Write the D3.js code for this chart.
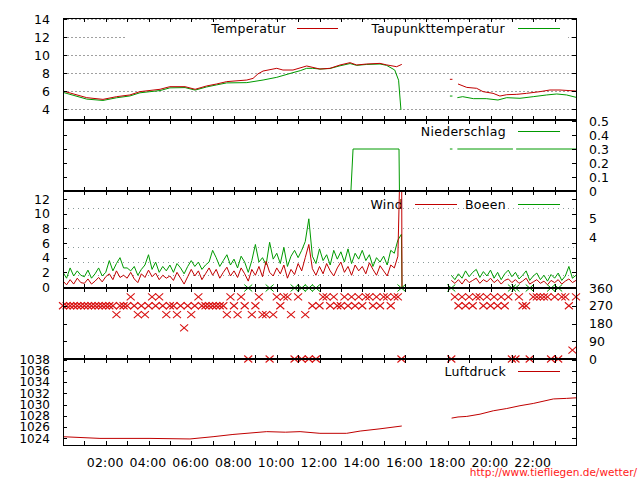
<!DOCTYPE html>
<html><head><meta charset="utf-8">
<script src="https://cdn.jsdelivr.net/npm/d3@7"></script>
<style>
body{margin:0;background:#fff}
svg{display:block}
text{font-family:"DejaVu Sans",sans-serif}
</style>
</head><body>
<svg id="c" width="640" height="480"></svg>
<script>
// ---------------- DATA ----------------
const hourTicks = [1,2,3,4,5,6,7,8,9,10,11,12,13,14,15,16,17,18,19,20,21,22,23];
const timeLabelHours = [2,4,6,8,10,12,14,16,18,20,22];
const timeLabels = ["02:00","04:00","06:00","08:00","10:00","12:00","14:00","16:00","18:00","20:00","22:00"];
const tempTicks = [4,6,8,10,12,14];
const rainTicks = [0,0.1,0.2,0.3,0.4,0.5];
const rainLabels = ["0","0.1","0.2","0.3","0.4","0.5"];
const windTicks = [0,2,4,6,8,10,12];
const bftLimits = [1.6,3.4,5.5,8.0,10.8];
const bftLabelValues = [9.4,6.75];
const bftLabels = ["5","4"];
const dirTicks = [0,90,180,270,360];
const pressTicks = [1024,1026,1028,1030,1032,1034,1036,1038];

// temperature (hours, °C); null = gap
const tempTime = [0,1.11,1.87,2.51,3.13,3.6,4.54,5.0,5.71,6.18,6.72,7.19,7.66,8.6,8.89,9.12,9.36,10.0,10.29,10.76,11.4,12.02,12.49,12.96,13.43,13.74,14.21,14.83,15.14,15.61,15.85,
  17,18.1,18.22,18.3,18.48,18.89,19.35,19.65,20.12,20.44,20.76,21.23,21.69,22.32,22.78,23.25,24.0];
const tempValue = [6.0,5.26,5.07,5.37,5.56,5.93,6.19,6.48,6.48,6.19,6.56,6.78,7.04,7.22,7.4,7.9,8.22,8.52,8.33,8.33,8.78,8.44,8.52,8.89,9.15,8.89,9.0,9.07,8.9,8.7,8.96,
  null,7.3,7.3,null,6.78,6.4,6.3,5.93,5.74,5.44,5.59,5.63,5.74,5.93,6.11,6.11,6.0];
const dewTime = [0,1.11,1.87,2.51,3.13,3.6,4.54,5.0,5.71,6.18,6.72,7.19,7.66,8.6,9.36,10.0,10.76,11.1,11.4,11.68,12.02,12.49,12.96,13.43,13.74,14.21,14.83,15.14,15.52,15.7,15.81,
  17,18.1,18.22,18.3,18.45,18.7,19.2,19.8,20.35,20.76,21.38,22.0,22.63,23.1,23.56,24.0];
const dewValue = [5.85,5.1,4.95,5.25,5.45,5.8,6.05,6.35,6.38,6.1,6.45,6.68,6.9,6.93,7.22,7.52,8.04,8.26,8.52,8.52,8.44,8.5,8.8,9.05,8.85,8.95,9.0,8.85,8.33,7.2,3.9,
  null,5.44,5.44,null,5.26,5.37,5.15,5.15,5.0,5.26,5.19,5.37,5.56,5.67,5.56,5.3];

// precipitation (mm)
const rainTime = [0,13.47,13.57,15.72,15.74,15.86,17,18.1,18.22,18.3,18.45,21.05,21.1,21.2,24];
const rainValue = [0,0,0.3,0.3,0,0,null,0.3,0.3,null,0.3,0.3,null,0.3,0.3];

// wind / gusts (m/s), 10-minute samples
const windStepMin = 10;
const seg1Start = 0;          // 00:00
const seg2Start = 18 + 10/60; // 18:10
const wind1 = [0.8,0.3,1.0,0.4,1.2,0.6, 0.5,1.1,0.4,0.8,1.3,0.7, 1.4,1.8,1.0,2.2,1.3,1.6,
  1.2,2.0,1.1,0.6,1.8,1.3, 2.3,1.4,1.9,1.0,1.6,1.2, 1.5,0.9,2.0,1.2,0.4,1.4,
  2.4,1.5,2.2,1.0,1.8,2.6, 1.6,2.4,1.2,2.0,2.7,1.5, 2.2,1.3,2.6,1.8,0.8,2.4,
  1.6,2.8,1.4,3.5,2.0,1.5, 2.6,1.8,3.0,1.2,2.4,1.7, 3.2,2.2,4.0,5.8,2.5,1.6,
  2.8,1.8,3.2,2.2,1.5,2.6, 3.4,2.0,2.8,1.6,3.0,2.2, 2.8,1.8,3.3,2.4,1.6,2.9,
  2.2,1.5,3.0,2.6,4.2,25];
const gust1 = [2.0,1.2,2.6,1.5,2.2,1.6, 1.4,2.3,1.2,1.8,2.6,1.5, 2.0,3.6,2.2,3.2,4.0,2.6,
  2.6,2.2,2.8,1.6,2.4,3.0, 4.4,2.4,3.4,2.0,2.8,2.2, 3.0,2.0,3.2,2.6,1.8,2.8,
  3.6,2.8,3.4,2.4,3.0,3.4, 5.0,4.0,2.8,3.6,4.4,3.0, 3.8,2.6,4.2,3.4,2.0,3.6,
  5.8,3.4,4.0,3.0,6.1,3.8, 4.6,3.2,5.4,2.8,4.2,5.0, 4.0,5.0,6.2,9.3,4.2,3.2,
  5.2,3.6,4.4,3.0,5.0,3.8, 4.8,3.4,5.2,3.2,4.6,3.8, 5.0,3.6,4.4,2.8,4.0,3.4,
  4.2,3.0,5.0,4.6,6.4,7.2];
// final reading of the first segment (drop to calm)
const seg1EndTime = 15.86;
const wind1End = 0;
const gust1End = 0;
const wind2 = [0.9,0.5,1.0,0.4,1.1,0.6, 0.9,1.2,0.5,1.0,0.7,1.2, 0.6,1.0,0.4,0.9,1.1,0.6,
  1.0,0.5,0.8,1.2,0.4,0.7, 1.0,0.5,0.8,0.3,0.9,0.6, 1.0,0.4,0.8,1.1,0.6,0.9];
const gust2 = [1.6,1.0,1.8,1.2,2.2,1.4, 2.0,2.4,1.3,2.1,1.5,2.3, 1.2,2.0,1.0,1.8,2.3,1.4,
  2.0,1.1,1.6,2.2,0.9,1.5, 1.9,1.0,1.6,0.8,1.7,1.2, 1.9,0.9,1.5,2.8,1.2,1.6];

// wind direction (degrees), same sampling
const dir1 = [270,270,270,270,270,270, 270,270,270,270,270,270, 270,270,270,225,270,270,
  270,315,270,225,270,225, 270,315,270,315,270,225, 270,270,225,270,157.5,270,
  225,270,315,270,270,270, 270,270,270,270,225,315, 270,225,315,270,0,225,
  270,315,225,225,0,225, 315,270,315,315,225,0, 315,0,225,0,270,0,
  270,315,315,270,315,270, 270,315,270,315,270,315, 270,315,315,270,315,270,
  315,315,270,315,315,0];
const dir2 = [0,315,270,315,270,315, 270,315,315,270,315,270, 315,270,315,270,315,0,
  0,315,270,270,0,315, 315,315,315,315,0,315, 0,315,315,270,45,315];

// pressure (hPa)
const pressTime = [0,1.73,4.07,5.94,7.02,7.95,9.53,10.4,11.09,12.02,13.27,13.9,14.83,15.85,17,18.18,18.48,18.89,19.51,20.13,20.76,21.38,22.0,22.94,23.56,24.0];
const pressValue = [1024.3,1024.0,1024.0,1023.9,1024.3,1024.7,1025.2,1025.1,1025.2,1024.9,1024.9,1025.3,1025.7,1026.2,null,1027.6,1027.8,1027.9,1028.3,1028.9,1029.3,1029.8,1030.2,1031.0,1031.1,1031.2];

// ---------------- CHART ----------------
const RED = "#c00000", GREEN = "#009a00", MRED = "#d81010";
const svg = d3.select("#c");
const X0 = 63, X1 = 576;
const panels = [[18,120],[120,191],[191,288],[288,359],[359,445]];
const x = d3.scaleLinear().domain([0,24]).range([X0,X1]);
const yT = d3.scaleLinear().domain([4,14]).range([109,19]);
const yR = d3.scaleLinear().domain([0,0.5]).range([191,121]);
const yW = d3.scaleLinear().domain([0,12]).range([287,199]);
const yD = d3.scaleLinear().domain([0,360]).range([359,288]);
const yP = d3.scaleLinear().domain([1024,1038]).range([438.4,359.5]);

const defs = svg.append("defs");
panels.forEach((p,i)=>defs.append("clipPath").attr("id","cp"+i).append("rect")
  .attr("x",X0).attr("y",p[0]).attr("width",X1-X0).attr("height",p[1]-p[0]));

function grid(scale, vals, dash, color){
  const g = svg.append("g").attr("transform",`translate(${X0},0)`)
    .call(d3.axisLeft(scale).tickValues(vals).tickSize(-(X1-X0)).tickFormat(""));
  g.select(".domain").remove();
  g.selectAll("line").attr("stroke",color).attr("stroke-dasharray",dash).attr("shape-rendering","crispEdges");
}
grid(yT, tempTicks, "2,2", "#a0a0a0");
grid(yW, bftLimits, "1,4", "#8a9a9a");

// opaque key box in top panel
svg.append("rect").attr("x",125).attr("y",22).attr("width",443).attr("height",17).attr("fill","#fff");

// legends
function legend(label, tx, ly, x1, x2, color){
  svg.append("text").attr("x",tx).attr("y",ly).attr("dy","0.36em").attr("text-anchor","end")
    .attr("font-size","12.5px").attr("letter-spacing","0.3px").text(label);
  svg.append("line").attr("x1",x1).attr("x2",x2).attr("y1",ly).attr("y2",ly)
    .attr("stroke",color).attr("stroke-width",1);
}
legend("Temperatur", 286, 28.5, 297, 338, RED);
legend("Taupunkttemperatur", 505, 28.5, 518, 560, GREEN);
legend("Niederschlag", 506, 131.5, 518, 560, GREEN);
legend("Wind", 403, 204.5, 415, 457, RED);
legend("Boeen", 506, 204.5, 518, 560, GREEN);
legend("Luftdruck", 506, 371.5, 518, 560, RED);

// line helper
function drawLine(times, values, yScale, color, clipIdx){
  const pts = times.map((t,i)=>[t, values[i]]);
  svg.append("path").datum(pts)
    .attr("clip-path",`url(#cp${clipIdx})`)
    .attr("fill","none").attr("stroke",color).attr("stroke-width",1)
    .attr("stroke-linejoin","round")
    .attr("d", d3.line().defined(d=>d[1]!=null).x(d=>x(d[0])).y(d=>yScale(d[1])));
}
function series(start, vals){ return vals.map((v,i)=>[start + i*windStepMin/60, v]); }
function drawSeries(start, vals, yScale, color, clipIdx, endT, endV){
  const s = series(start, vals);
  if (endT !== undefined) s.push([endT, endV]);
  drawLine(s.map(d=>d[0]), s.map(d=>d[1]), yScale, color, clipIdx);
}

drawLine(dewTime, dewValue, yT, GREEN, 0);
drawLine(tempTime, tempValue, yT, RED, 0);
drawLine(rainTime, rainValue, yR, GREEN, 1);
drawSeries(seg1Start, gust1, yW, GREEN, 2, seg1EndTime, gust1End);
drawSeries(seg2Start, gust2, yW, GREEN, 2);
drawSeries(seg1Start, wind1, yW, RED, 2, seg1EndTime, wind1End);
drawSeries(seg2Start, wind2, yW, RED, 2);
drawLine(pressTime, pressValue, yP, RED, 4);

// direction markers
const cross = "M-4,-3.5L4,3.5M-4,3.5L4,-3.5";
const dirPts = series(seg1Start, dir1).concat(series(seg2Start, dir2)).filter(d=>d[1]!=null);
svg.append("g").selectAll("path").data(dirPts.filter(d=>d[1]===0)).join("path")
  .attr("d",cross).attr("fill","none").attr("stroke",GREEN).attr("stroke-width",1)
  .attr("transform",d=>`translate(${x(d[0])},${yD(360)})`);
svg.append("g").selectAll("path").data(dirPts).join("path")
  .attr("d",cross).attr("fill","none").attr("stroke",MRED).attr("stroke-width",1.1)
  .attr("transform",d=>`translate(${x(d[0])},${yD(d[1])})`);

// borders
svg.append("rect").attr("x",X0+0.5).attr("y",18.5).attr("width",X1-X0).attr("height",445-18)
  .attr("fill","none").attr("stroke","#000").attr("stroke-width",1);
[120,191,288,359].forEach(y=>svg.append("line").attr("x1",X0).attr("x2",X1+1)
  .attr("y1",y).attr("y2",y).attr("stroke","#000").attr("stroke-width",2));

// x ticks on each panel, inward
function styleAxis(g, fs){
  g.select(".domain").remove();
  g.selectAll("line").attr("stroke","#000").attr("shape-rendering","crispEdges");
  g.selectAll("text").attr("font-family","DejaVu Sans, sans-serif").attr("font-size",fs||"12.5px").attr("fill","#000");
  return g;
}
panels.forEach(p=>{
  styleAxis(svg.append("g").attr("transform",`translate(0,${p[0]})`)
    .call(d3.axisBottom(x).tickValues(hourTicks).tickSize(4).tickFormat("")));
  styleAxis(svg.append("g").attr("transform",`translate(0,${p[1]})`)
    .call(d3.axisTop(x).tickValues(hourTicks).tickSize(4).tickFormat("")));
});

// y axes
function yAxisL(scale, vals, labels, fs){
  const ax = d3.axisLeft(scale).tickValues(vals).tickSize(-4).tickPadding(13);
  ax.tickFormat(labels ? (d,i)=>labels[i] : "");
  styleAxis(svg.append("g").attr("transform",`translate(${X0},0)`).call(ax), fs);
}
function yAxisR(scale, vals, labels, size){
  const ax = d3.axisRight(scale).tickValues(vals).tickSize(size===undefined?-4:size).tickPadding(13);
  ax.tickFormat(labels ? (d,i)=>labels[i] : "");
  styleAxis(svg.append("g").attr("transform",`translate(${X1},0)`).call(ax));
}
yAxisL(yT, tempTicks, tempTicks.map(String));
yAxisR(yT, tempTicks, null);
yAxisL(yR, rainTicks.slice(1,5), null);
yAxisR(yR, rainTicks, rainLabels);
yAxisL(yW, windTicks, windTicks.map(String));
yAxisR(yW, windTicks, null);
yAxisR(yW, bftLabelValues, bftLabels, 0);
yAxisL(yD, dirTicks.slice(1,4), null);
yAxisR(yD, dirTicks, dirTicks.map(String));
yAxisL(yP, pressTicks, pressTicks.map(String), "12px");
yAxisR(yP, pressTicks, null);

// x labels
const xl = styleAxis(svg.append("g").attr("transform","translate(-1,455.5)")
  .call(d3.axisBottom(x).tickValues(timeLabelHours).tickSize(0).tickPadding(3).tickFormat((d,i)=>timeLabels[i])));
xl.selectAll("line").remove();
xl.selectAll("text").attr("letter-spacing","0.2px");

// url
svg.append("text").attr("x",637).attr("y",475.5).attr("text-anchor","end")
  .attr("font-family","Liberation Sans, Arial, sans-serif").attr("font-size","10.5px")
  .attr("fill","#ff2020").text("http://www.tiefliegen.de/wetter/");
</script>
</body></html>
